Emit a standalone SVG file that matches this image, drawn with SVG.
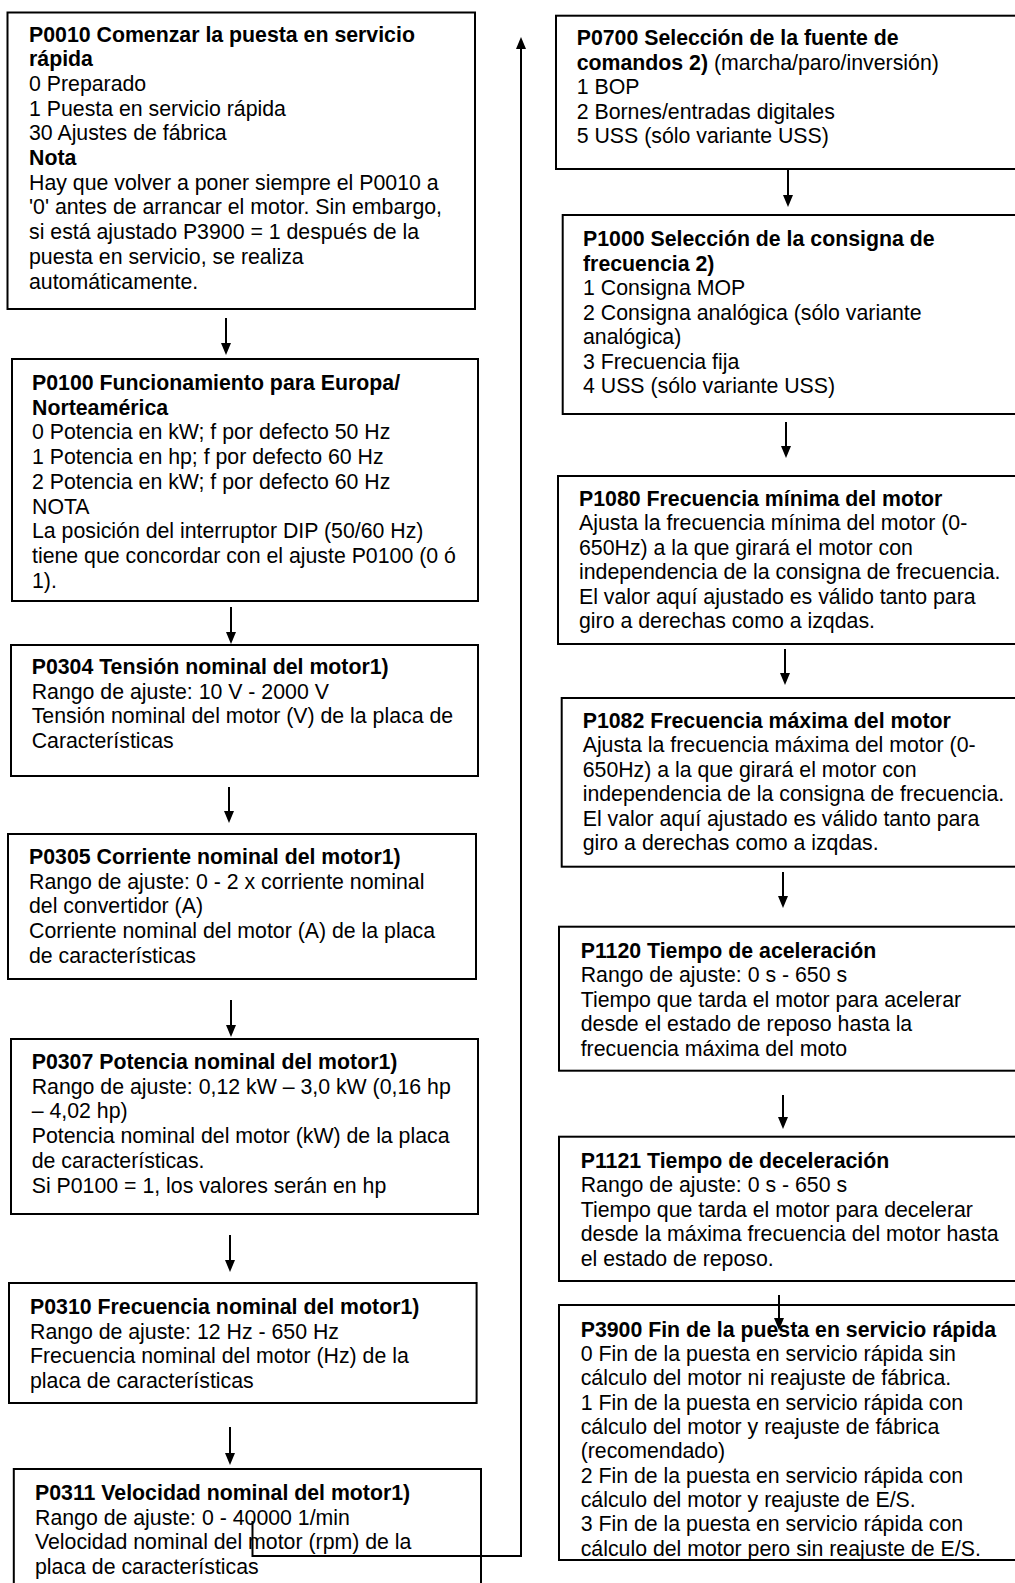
<svg xmlns="http://www.w3.org/2000/svg" width="1015" height="1583" viewBox="0 0 1015 1583">
<defs>
<style>
.box{fill:#fff;stroke:#000;stroke-width:2}
text{font-family:"Liberation Sans",Arial,sans-serif;font-size:21.3px;fill:#000}
.b{font-weight:bold}
.con{fill:none;stroke:#000;stroke-width:2}
</style>
<marker id="ah" viewBox="0 0 12 10" markerWidth="12" markerHeight="10" refX="6" refY="5" orient="auto" markerUnits="userSpaceOnUse">
<path d="M0,0 L12,5 L0,10 z" fill="#000"/>
</marker>
</defs>
<rect width="1015" height="1583" fill="#fff"/>

<g id="P0010">
<rect class="box" x="7.5" y="12.5" width="467.5" height="296.5"/>
<text x="29" y="41.5"><tspan class="b">P0010 Comenzar la puesta en servicio</tspan><tspan class="b" x="29" dy="24.7">rápida</tspan><tspan x="29" dy="24.7">0 Preparado</tspan><tspan x="29" dy="24.7">1 Puesta en servicio rápida</tspan><tspan x="29" dy="24.7">30 Ajustes de fábrica</tspan><tspan class="b" x="29" dy="24.7">Nota</tspan><tspan x="29" dy="24.7">Hay que volver a poner siempre el P0010 a</tspan><tspan x="29" dy="24.7">'0' antes de arrancar el motor. Sin embargo,</tspan><tspan x="29" dy="24.7">si está ajustado P3900 = 1 después de la</tspan><tspan x="29" dy="24.7">puesta en servicio, se realiza</tspan><tspan x="29" dy="24.7">automáticamente.</tspan></text>
</g>

<g id="P0100">
<rect class="box" x="12" y="359" width="466" height="242"/>
<text x="32" y="390"><tspan class="b">P0100 Funcionamiento para Europa/</tspan><tspan class="b" x="32" dy="24.7">Norteamérica</tspan><tspan x="32" dy="24.7">0 Potencia en kW; f por defecto 50 Hz</tspan><tspan x="32" dy="24.7">1 Potencia en hp; f por defecto 60 Hz</tspan><tspan x="32" dy="24.7">2 Potencia en kW; f por defecto 60 Hz</tspan><tspan x="32" dy="24.7">NOTA</tspan><tspan x="32" dy="24.7">La posición del interruptor DIP (50/60 Hz)</tspan><tspan x="32" dy="24.7">tiene que concordar con el ajuste P0100 (0 ó</tspan><tspan x="32" dy="24.7">1).</tspan></text>
</g>

<g id="P0304">
<rect class="box" x="11" y="645" width="467" height="131"/>
<text x="31.7" y="674"><tspan class="b">P0304 Tensión nominal del motor1)</tspan><tspan x="31.7" dy="24.7">Rango de ajuste: 10 V - 2000 V</tspan><tspan x="31.7" dy="24.7">Tensión nominal del motor (V) de la placa de</tspan><tspan x="31.7" dy="24.7">Características</tspan></text>
</g>

<g id="P0305">
<rect class="box" x="8" y="834" width="468" height="145"/>
<text x="29" y="864"><tspan class="b">P0305 Corriente nominal del motor1)</tspan><tspan x="29" dy="24.7">Rango de ajuste: 0 - 2 x corriente nominal</tspan><tspan x="29" dy="24.7">del convertidor (A)</tspan><tspan x="29" dy="24.7">Corriente nominal del motor (A) de la placa</tspan><tspan x="29" dy="24.7">de características</tspan></text>
</g>

<g id="P0307">
<rect class="box" x="11" y="1039" width="467" height="175"/>
<text x="31.7" y="1069"><tspan class="b">P0307 Potencia nominal del motor1)</tspan><tspan x="31.7" dy="24.7">Rango de ajuste: 0,12 kW – 3,0 kW (0,16 hp</tspan><tspan x="31.7" dy="24.7">– 4,02 hp)</tspan><tspan x="31.7" dy="24.7">Potencia nominal del motor (kW) de la placa</tspan><tspan x="31.7" dy="24.7">de características.</tspan><tspan x="31.7" dy="24.7">Si P0100 = 1, los valores serán en hp</tspan></text>
</g>

<g id="P0310">
<rect class="box" x="9" y="1283" width="467.6" height="120"/>
<text x="30" y="1314"><tspan class="b">P0310 Frecuencia nominal del motor1)</tspan><tspan x="30" dy="24.7">Rango de ajuste: 12 Hz - 650 Hz</tspan><tspan x="30" dy="24.7">Frecuencia nominal del motor (Hz) de la</tspan><tspan x="30" dy="24.7">placa de características</tspan></text>
</g>

<g id="P0311">
<rect class="box" x="13.8" y="1469" width="467.2" height="140"/>
<text x="35" y="1500"><tspan class="b">P0311 Velocidad nominal del motor1)</tspan><tspan x="35" dy="24.7">Rango de ajuste: 0 - 40000 1/min</tspan><tspan x="35" dy="24.7">Velocidad nominal del motor (rpm) de la</tspan><tspan x="35" dy="24.7">placa de características</tspan></text>
</g>

<g id="P0700">
<rect class="box" x="556" y="15.7" width="470" height="153.3"/>
<text x="576.7" y="45"><tspan class="b">P0700 Selección de la fuente de</tspan><tspan class="b" x="576.7" dy="24.5">comandos 2)</tspan><tspan> (marcha/paro/inversión)</tspan><tspan x="576.7" dy="24.5">1 BOP</tspan><tspan x="576.7" dy="24.5">2 Bornes/entradas digitales</tspan><tspan x="576.7" dy="24.5">5 USS (sólo variante USS)</tspan></text>
</g>

<g id="P1000">
<rect class="box" x="562.7" y="215" width="470" height="199"/>
<text x="583" y="246"><tspan class="b">P1000 Selección de la consigna de</tspan><tspan class="b" x="583" dy="24.5">frecuencia 2)</tspan><tspan x="583" dy="24.5">1 Consigna MOP</tspan><tspan x="583" dy="24.5">2 Consigna analógica (sólo variante</tspan><tspan x="583" dy="24.5">analógica)</tspan><tspan x="583" dy="24.5">3 Frecuencia fija</tspan><tspan x="583" dy="24.5">4 USS (sólo variante USS)</tspan></text>
</g>

<g id="P1080">
<rect class="box" x="558" y="476" width="470" height="168"/>
<text x="579" y="505.7"><tspan class="b">P1080 Frecuencia mínima del motor</tspan><tspan x="579" dy="24.5">Ajusta la frecuencia mínima del motor (0-</tspan><tspan x="579" dy="24.5">650Hz) a la que girará el motor con</tspan><tspan x="579" dy="24.5">independencia de la consigna de frecuencia.</tspan><tspan x="579" dy="24.5">El valor aquí ajustado es válido tanto para</tspan><tspan x="579" dy="24.5">giro a derechas como a izqdas.</tspan></text>
</g>

<g id="P1082">
<rect class="box" x="561.7" y="698" width="470" height="168.7"/>
<text x="582.7" y="727.7"><tspan class="b">P1082 Frecuencia máxima del motor</tspan><tspan x="582.7" dy="24.5">Ajusta la frecuencia máxima del motor (0-</tspan><tspan x="582.7" dy="24.5">650Hz) a la que girará el motor con</tspan><tspan x="582.7" dy="24.5">independencia de la consigna de frecuencia.</tspan><tspan x="582.7" dy="24.5">El valor aquí ajustado es válido tanto para</tspan><tspan x="582.7" dy="24.5">giro a derechas como a izqdas.</tspan></text>
</g>

<g id="P1120">
<rect class="box" x="559" y="926.7" width="470" height="144"/>
<text x="580.7" y="957.7"><tspan class="b">P1120 Tiempo de aceleración</tspan><tspan x="580.7" dy="24.5">Rango de ajuste: 0 s - 650 s</tspan><tspan x="580.7" dy="24.5">Tiempo que tarda el motor para acelerar</tspan><tspan x="580.7" dy="24.5">desde el estado de reposo hasta la</tspan><tspan x="580.7" dy="24.5">frecuencia máxima del moto</tspan></text>
</g>

<g id="P1121">
<rect class="box" x="559" y="1136.7" width="470" height="144.3"/>
<text x="580.7" y="1167.7"><tspan class="b">P1121 Tiempo de deceleración</tspan><tspan x="580.7" dy="24.5">Rango de ajuste: 0 s - 650 s</tspan><tspan x="580.7" dy="24.5">Tiempo que tarda el motor para decelerar</tspan><tspan x="580.7" dy="24.5">desde la máxima frecuencia del motor hasta</tspan><tspan x="580.7" dy="24.5">el estado de reposo.</tspan></text>
</g>

<g id="P3900">
<rect class="box" x="559" y="1305" width="470" height="255"/>
<text x="580.7" y="1336.7"><tspan class="b">P3900 Fin de la puesta en servicio rápida</tspan><tspan x="580.7" dy="24.33">0 Fin de la puesta en servicio rápida sin</tspan><tspan x="580.7" dy="24.33">cálculo del motor ni reajuste de fábrica.</tspan><tspan x="580.7" dy="24.33">1 Fin de la puesta en servicio rápida con</tspan><tspan x="580.7" dy="24.33">cálculo del motor y reajuste de fábrica</tspan><tspan x="580.7" dy="24.33">(recomendado)</tspan><tspan x="580.7" dy="24.33">2 Fin de la puesta en servicio rápida con</tspan><tspan x="580.7" dy="24.33">cálculo del motor y reajuste de E/S.</tspan><tspan x="580.7" dy="24.33">3 Fin de la puesta en servicio rápida con</tspan><tspan x="580.7" dy="24.33">cálculo del motor pero sin reajuste de E/S.</tspan></text>
</g>

<g id="connectors" class="con">
<line x1="226" y1="318" x2="226" y2="349" marker-end="url(#ah)"/>
<line x1="231" y1="607" x2="231" y2="638" marker-end="url(#ah)"/>
<line x1="229" y1="787" x2="229" y2="817" marker-end="url(#ah)"/>
<line x1="231" y1="1000" x2="231" y2="1031" marker-end="url(#ah)"/>
<line x1="230" y1="1235" x2="230" y2="1266" marker-end="url(#ah)"/>
<line x1="230" y1="1427" x2="230" y2="1459" marker-end="url(#ah)"/>
<line x1="788" y1="170" x2="788" y2="201" marker-end="url(#ah)"/>
<line x1="786" y1="422" x2="786" y2="452" marker-end="url(#ah)"/>
<line x1="785" y1="649" x2="785" y2="679" marker-end="url(#ah)"/>
<line x1="783" y1="872" x2="783" y2="902" marker-end="url(#ah)"/>
<line x1="783" y1="1095" x2="783" y2="1123" marker-end="url(#ah)"/>
<line x1="779" y1="1295" x2="779" y2="1324" marker-end="url(#ah)"/>
<path d="M252.5,1521 V1556 H521 V43" marker-end="url(#ah)"/>
</g>
</svg>
